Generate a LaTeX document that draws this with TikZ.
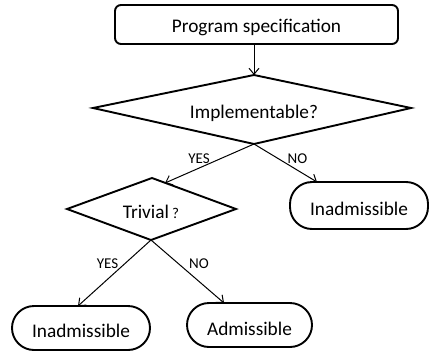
\documentclass[tikz,border=0pt]{standalone}
\usepackage{fontspec}
\setmainfont{Carlito}
\usetikzlibrary{arrows.meta}
\begin{document}
\begin{tikzpicture}[x=1pt,y=-1pt,
  box/.style={draw,line width=1.9pt,inner sep=0pt,font=\fontsize{19}{22}\selectfont},
  pill/.style={box,rounded corners=22pt},
  dmd/.style={draw,line width=1.9pt,line join=miter},
  txt/.style={inner sep=0pt,font=\fontsize{19.3}{22}\selectfont},
  lbl/.style={inner sep=0pt,font=\fontsize{15}{17}\selectfont},
  arr/.style={line width=1pt,-{Straight Barb[length=6pt,width=10pt,line width=1pt]}}]
\useasboundingbox (0,0) rectangle (430,353);
% top box
\node[box,rounded corners=6pt,minimum width=283pt,minimum height=39pt] (spec) at (256.5,24.5) {};
\node[txt,anchor=base] (spectxt) at (256.5,33) {Program specification};
% implementable diamond
\coordinate (it) at (254,75);
\coordinate (ir) at (411,108);
\coordinate (ib) at (254,144);
\coordinate (il) at (93,108);
\draw[dmd] (it) -- (ir) -- (ib) -- (il) -- cycle;
\node[txt,anchor=base] (impl) at (254,118) {Implementable?};
% trivial diamond
\coordinate (tt) at (152,178);
\coordinate (tr) at (236,209);
\coordinate (tb) at (151,240);
\coordinate (tl) at (67,209);
\draw[dmd] (tt) -- (tr) -- (tb) -- (tl) -- cycle;
\node[txt,anchor=base] (triv) at (151,218) {Trivial\,{\fontsize{15}{17}\selectfont ?}};
% terminal boxes
\node[pill,minimum width=138pt,minimum height=47pt] (inadR) at (359,205.5) {};
\node[txt,anchor=base] (inadRt) at (359,215) {Inadmissible};
\node[pill,minimum width=138pt,minimum height=44pt] (inadL) at (81,328) {};
\node[txt,anchor=base] (inadLt) at (81,337) {Inadmissible};
\node[pill,minimum width=125pt,minimum height=44pt] (adm) at (249.5,325) {};
\node[txt,anchor=base] (admt) at (249.5,335) {Admissible};
% connector end points
\coordinate (e1) at (165,183);
\coordinate (e2) at (317,182);
\coordinate (e3) at (78,306);
\coordinate (e4) at (224,303);
% connectors
\draw[arr] (spec.south -| it) -- (it);
\draw[arr] (ib) -- (e1);
\draw[arr] (ib) -- (e2);
\draw[arr] (tb) -- (e3);
\draw[arr] (tb) -- (e4);
% labels
\node[lbl] (y1) at (199,159) {YES};
\node[lbl] (n1) at (297.5,159) {NO};
\node[lbl] (y2) at (107.5,264) {YES};
\node[lbl] (n2) at (199,264) {NO};
\end{tikzpicture}
\end{document}
